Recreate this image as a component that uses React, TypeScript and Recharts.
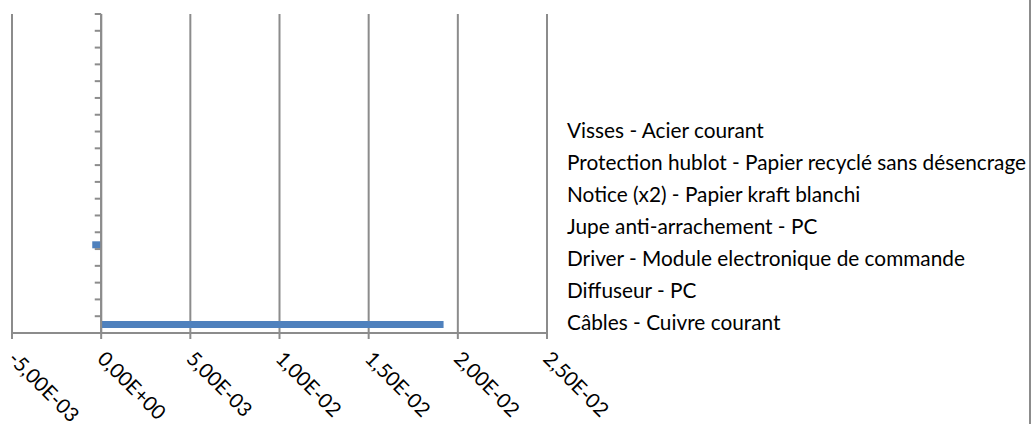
import { BarChart, Bar, XAxis, YAxis, CartesianGrid, ReferenceLine } from "recharts";

// indicator categories (Excel order: first one sits at the bottom)
const categories = [
  "1", "2", "3", "4", "5", "6", "7", "8", "9", "10",
  "11", "12", "13", "14", "15", "16", "17", "18", "19", "20",
];
const impacts = [
  0.0192, 0, 0, 0, 0, -0.0005, 0, 0, 0, 0,
  0, 0, 0, 0, 0, 0, 0, 0, 0, 0,
];
const xTicks = [-0.005, 0, 0.005, 0.01, 0.015, 0.02, 0.025];
const legendItems = [
  "Visses - Acier courant",
  "Protection hublot - Papier recyclé sans désencrage",
  "Notice (x2) - Papier kraft blanchi",
  "Jupe anti-arrachement - PC",
  "Driver - Module electronique de commande",
  "Diffuseur - PC",
  "Câbles - Cuivre courant",
];

const data = categories.map((name, i) => ({ name, value: impacts[i] }));
const boundaries = [...categories.map((_, i) => i), categories.length];

const GRID = "#8c8c8c";
const FONT = "Lato, 'Open Sans', sans-serif";

// 1.5e-2 -> "1,50E-02"
const sci = (v: number) => {
  const [m, e] = v.toExponential(2).split("e");
  const n = parseInt(e, 10);
  return m.replace(".", ",") + "E" + (n < 0 ? "-" : "+") + String(Math.abs(n)).padStart(2, "0");
};

const RotTick = (props: any) => {
  const { x, y, payload } = props;
  const tx = x - 5;
  const ty = y + 19;
  return (
    <text x={tx} y={ty} transform={`rotate(45, ${tx}, ${ty})`} textAnchor="start"
      fontSize={20.2} fontFamily={FONT} fill="#000">
      {sci(payload.value)}
    </text>
  );
};

const App = () => {
  return (
    <div style={{ position: "relative", width: 1032, height: 424, background: "#fff" }}>
      <style>{"body{margin:0}"}</style>
      <BarChart width={1032} height={424} data={data} layout="vertical"
        margin={{ top: 14, right: 485, left: 12, bottom: 0 }}>
        <CartesianGrid horizontal={false} stroke={GRID} strokeWidth={2} />
        <XAxis type="number" domain={[-0.005, 0.025]} ticks={xTicks} interval={0}
          allowDataOverflow height={91}
          axisLine={{ stroke: GRID, strokeWidth: 2 }}
          tickLine={{ stroke: GRID, strokeWidth: 2 }} tickSize={6}
          tick={<RotTick />} />
        <YAxis type="category" dataKey="name" reversed hide />
        <YAxis yAxisId="grid" type="number" domain={[0, 20]} hide />
        <ReferenceLine x={0} stroke={GRID} strokeWidth={2} />
        {boundaries.map((k) => (
          <ReferenceLine key={k} yAxisId="grid" stroke={GRID} strokeWidth={2}
            segment={[{ x: -0.00036, y: k }, { x: 0, y: k }]} />
        ))}
        <Bar dataKey="value" fill="#4F81BD" barSize={7} isAnimationActive={false} />
      </BarChart>
      <div style={{ position: "absolute", left: 567, top: 114, fontFamily: FONT, fontSize: 20.8, lineHeight: "32px", color: "#000", whiteSpace: "nowrap" }}>
        {legendItems.map((t) => (
          <div key={t}>{t}</div>
        ))}
      </div>
      <div style={{ position: "absolute", left: 1029, top: 0, width: 2, height: 424, background: GRID }} />
    </div>
  );
};

export default App;
